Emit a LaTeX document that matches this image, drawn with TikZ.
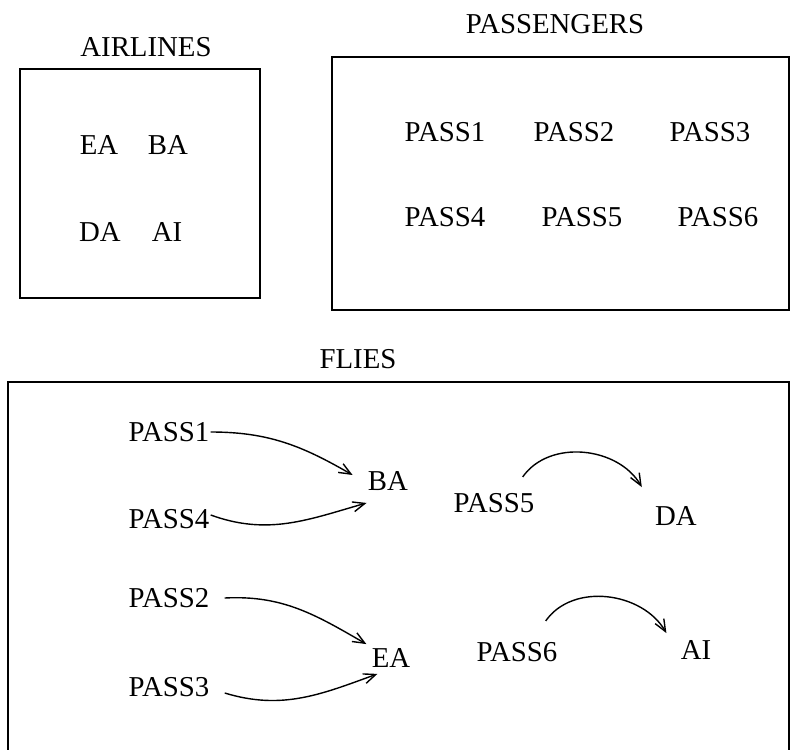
\documentclass[tikz,border=0pt]{standalone}
\usepackage{fontspec}
\setmainfont{Liberation Serif}
\usetikzlibrary{positioning,arrows.meta}

\tikzset{
  lbl/.style={inner sep=0.5pt, font=\fontsize{14.4}{17}\selectfont},
  frame/.style={line width=0.75pt},
  flow/.style={-{Straight Barb[length=6pt,width=5pt]}, line width=0.7pt},
}

\begin{document}
\begin{tikzpicture}[x=0.5pt, y=-0.5pt]
			\useasboundingbox (0,0) rectangle (799,750);

			% airlines
			\node[lbl] (airlines) at (146,47) {AIRLINES};
			\draw[frame] (20,69) rectangle (260,298);
			\node[lbl] (aEA) at (99,145) {EA};
			\node[lbl] (aBA) at (168,145) {BA};
			\node[lbl] (aDA) at (100,232) {DA};
			\node[lbl] (aAI) at (167,232) {AI};

			% passengers
			\node[lbl] (passengers) at (555,24) {PASSENGERS};
			\draw[frame] (332,57) rectangle (789,310);
			\node[lbl] (p1) at (445,132) {PASS1};
			\node[lbl] (p2) at (574,132) {PASS2};
			\node[lbl] (p3) at (710,132) {PASS3};
			\node[lbl] (p4) at (445,217) {PASS4};
			\node[lbl] (p5) at (582,217) {PASS5};
			\node[lbl] (p6) at (718,217) {PASS6};

			% flies
			\node[lbl] (flies) at (358,359) {FLIES};
			\draw[frame] (8,382) rectangle (789,753);
			\node[lbl] (f1) at (169,432) {PASS1};
			\node[lbl] (f4) at (169,519) {PASS4};
			\node[lbl] (fBA) at (388,481) {BA};
			\node[lbl] (f5) at (494,503) {PASS5};
			\node[lbl] (fDA) at (676,516) {DA};
			\node[lbl] (f2) at (169,598) {PASS2};
			\node[lbl] (f3) at (169,687) {PASS3};
			\node[lbl] (fEA) at (391,658) {EA};
			\node[lbl] (f6) at (517,652) {PASS6};
			\node[lbl] (fAI) at (696,650) {AI};

			\draw[flow] (f1.east) to[out=0, in=150] ([xshift=-7pt,yshift=3pt]fBA.west);
			\draw[flow] ([yshift=2pt]f4.east) to[out=-20, in=196] ([yshift=-5.5pt]fBA.south west);
			\draw[flow] ([xshift=7pt]f2.east) to[out=3, in=150] ([xshift=-2pt,yshift=1.5pt]fEA.north west);
			\draw[flow] ([xshift=7pt,yshift=-3pt]f3.east) to[out=-17, in=200] ([xshift=3.5pt,yshift=-2.5pt]fEA.south west);
			\draw[flow] ([xshift=-6.5pt,yshift=7.5pt]f5.north east) to[out=55, in=120] ([xshift=-6pt,yshift=9pt]fDA.north west);
			\draw[flow] ([xshift=-6.5pt,yshift=10pt]f6.north east) to[out=55, in=120] ([xshift=-6.5pt,yshift=3pt]fAI.north west);
		\end{tikzpicture}
\end{document}
